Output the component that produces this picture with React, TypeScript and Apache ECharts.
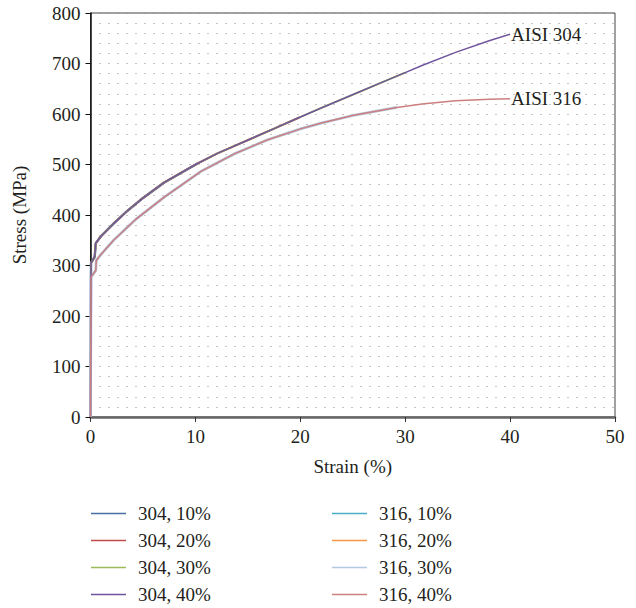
import React, { useEffect, useRef } from 'react';
import * as echarts from 'echarts';

const FONT = '"Liberation Serif", "DejaVu Serif", serif';
const TEXT = '#231F20';

// 304 stainless steel stress-strain curve (strain %, stress MPa)
const strain304 = [0, 0.05, 0.4, 0.5, 1, 2.2, 3.5, 4.9, 7.0, 10.2, 12.1, 15.3, 17.5, 19.9, 22, 25.2, 28.4, 30, 31.6, 34.8, 38, 40];
const stress304 = [0, 305, 317, 344, 358, 383, 408, 432, 464, 502, 522, 551, 571, 593, 612, 640, 668, 682, 696, 722, 745, 758];

// 316 stainless steel stress-strain curve
const strain316 = [0, 0.05, 0.5, 0.55, 1, 2.2, 4.4, 7.0, 10.5, 13.7, 16.9, 20.1, 22, 25.2, 29.2, 31.6, 34.8, 38, 40];
const stress316 = [0, 277, 290, 310, 322, 350, 393, 435, 486, 521, 549, 571, 582, 598, 613, 620, 626, 629, 630];

// final strain of each test series
const ends304 = [10.2, 19.9, 30, 40];
const ends316 = [10.5, 20.1, 29.2, 40];

const names304 = ['304, 10%', '304, 20%', '304, 30%', '304, 40%'];
const names316 = ['316, 10%', '316, 20%', '316, 30%', '316, 40%'];
const colors304 = ['#4A6FA5', '#BE4B48', '#9BBB59', '#6F559B'];
const colors316 = ['#4BACC6', '#F79646', '#B3C8E2', '#CC7F7E'];
const widths304 = [2.4, 2, 1.8, 1.5];
const widths316 = [1.6, 1.6, 2.8, 1.5];

const xTicks = { min: 0, max: 50, interval: 10 };
const yTicks = { min: 0, max: 800, interval: 100 };

function curve(strain: number[], stress: number[], end: number) {
  const out: number[][] = [];
  for (let i = 0; i < strain.length; i++) {
    if (strain[i] <= end + 1e-9) out.push([strain[i], stress[i]]);
  }
  return out;
}

const dotStyle = { type: [1, 8] as any, color: '#8a8a8a', width: 1 };

export default function App() {
  const ref = useRef<HTMLDivElement>(null);
  useEffect(() => {
    const chart = echarts.init(ref.current!, null, { renderer: 'svg' });
    const series: any[] = [];
    names304.forEach((n, i) => {
      series.push({
        name: n,
        type: 'line',
        symbol: 'none',
        data: curve(strain304, stress304, ends304[i]),
        lineStyle: { color: colors304[i], width: widths304[i] },
        itemStyle: { color: colors304[i] },
        z: 2 + i,
        endLabel: i === 3 ? { show: true, formatter: 'AISI 304', fontFamily: FONT, fontSize: 19, color: TEXT, distance: 1 } : undefined,
      });
    });
    names316.forEach((n, i) => {
      series.push({
        name: n,
        type: 'line',
        symbol: 'none',
        data: curve(strain316, stress316, ends316[i]),
        lineStyle: { color: colors316[i], width: widths316[i] },
        itemStyle: { color: colors316[i] },
        z: 2 + i,
        endLabel: i === 3 ? { show: true, formatter: 'AISI 316', fontFamily: FONT, fontSize: 19, color: TEXT, distance: 1 } : undefined,
      });
    });
    const legendBase = {
      orient: 'vertical',
      top: 504,
      padding: 0,
      icon: 'rect',
      itemWidth: 35,
      itemHeight: 1.5,
      itemGap: 8,
      textStyle: { fontFamily: FONT, fontSize: 19, color: TEXT, lineHeight: 19, padding: [0, 0, 0, 7] },
    };
    chart.setOption({
      animation: false,
      textStyle: { fontFamily: FONT },
      grid: {
        left: 90.5,
        right: 21,
        top: 13,
        bottom: 191,
        show: true,
        borderColor: '#444',
        borderWidth: 1,
        backgroundColor: 'transparent',
      },
      legend: [
        { ...legendBase, left: 91, data: names304 },
        { ...legendBase, left: 332, data: names316 },
      ],
      xAxis: {
        type: 'value',
        ...xTicks,
        name: 'Strain (%)',
        nameLocation: 'middle',
        nameGap: 40,
        nameTextStyle: { fontFamily: FONT, fontSize: 19, color: TEXT },
        axisLine: { show: true, lineStyle: { color: '#666', width: 2.5 } },
        axisTick: { show: true, inside: false, length: 5, lineStyle: { color: '#333', width: 1 } },
        axisLabel: { fontFamily: FONT, fontSize: 19, color: TEXT, margin: 10 },
        splitLine: { show: false },
      },
      yAxis: {
        type: 'value',
        ...yTicks,
        name: 'Stress (MPa)',
        nameLocation: 'middle',
        nameGap: 62,
        nameTextStyle: { fontFamily: FONT, fontSize: 19, color: TEXT },
        axisLine: { show: true, lineStyle: { color: '#111', width: 1.5 } },
        axisTick: { show: true, inside: false, length: 5, lineStyle: { color: '#111', width: 1 } },
        axisLabel: { fontFamily: FONT, fontSize: 19, color: TEXT, margin: 10 },
        splitLine: { show: true, lineStyle: dotStyle },
        minorTick: { show: false, splitNumber: 5 },
        minorSplitLine: { show: true, lineStyle: dotStyle },
      },
      series,
    });
    return () => chart.dispose();
  }, []);
  return <div ref={ref} style={{ position: 'absolute', left: 0, top: 0, width: 636, height: 608 }} />;
}
